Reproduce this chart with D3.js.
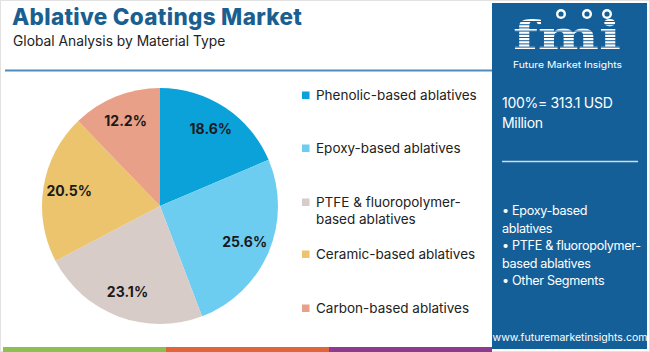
<!DOCTYPE html>
<html><head><meta charset="utf-8">
<script src="https://cdn.jsdelivr.net/npm/d3@7/dist/d3.min.js"></script>
<style>body{margin:0;background:#fff;}svg{display:block;}</style>
</head><body>
<svg id="c" width="650" height="352"></svg>
<script>
const categories = ["Phenolic-based ablatives","Epoxy-based ablatives","PTFE & fluoropolymer-based ablatives","Ceramic-based ablatives","Carbon-based ablatives"];
const legendLines = [["Phenolic-based ablatives"],["Epoxy-based ablatives"],["PTFE & fluoropolymer-","based ablatives"],["Ceramic-based ablatives"],["Carbon-based ablatives"]];
const values = [18.6,25.6,23.1,20.5,12.2];
const colors = ["#0ba2da","#6ccdf1","#d8ccc9","#ebc46d","#e9a089"];
const title = "Ablative Coatings Market";
const subtitle = "Global Analysis by Material Type";
const totalLines = ["100%= 313.1 USD","Million"];
const bulletLines = ["• Epoxy-based","ablatives","• PTFE & fluoropolymer-","based ablatives","• Other Segments"];
const url = "www.futuremarketinsights.com";

const svg = d3.select("#c");
const font = "Inter, 'Open Sans', sans-serif";

// frame
svg.append("rect").attr("x",0.5).attr("y",0.5).attr("width",649).attr("height",351).attr("fill","none").attr("stroke","#e2e2e2");

// title
svg.append("text").attr("x",12).attr("y",25).attr("font-family",font).attr("font-weight",800).attr("font-size",22.5).attr("letter-spacing",0.3).attr("fill","#1b5f91").text(title);
svg.append("text").attr("x",13).attr("y",46).attr("font-family",font).attr("font-size",13.8).attr("fill","#222").text(subtitle);
svg.append("line").attr("x1",5).attr("x2",492).attr("y1",70.5).attr("y2",70.5).attr("stroke","#4f8bbd").attr("stroke-width",2);

// bottom strips
const strips = ["#8cc152","#e0653a","#8e3a8e"];
strips.forEach((c,i)=>{
  svg.append("rect").attr("x",3+i*163).attr("y",347).attr("width",163).attr("height",5).attr("fill",c);
});

// pie
const cx=160, cy=206, R=118;
const pie = d3.pie().sort(null).value(d=>d)(values);
const arc = d3.arc().innerRadius(0).outerRadius(R);
const labelArc = d3.arc().innerRadius(92).outerRadius(92);
const g = svg.append("g").attr("transform",`translate(${cx},${cy})`);
g.selectAll("path").data(pie).join("path").attr("d",arc).attr("fill",(d,i)=>colors[i]);
g.selectAll("text").data(pie).join("text")
  .attr("transform",d=>`translate(${labelArc.centroid(d)})`)
  .attr("text-anchor","middle").attr("dy","0.35em")
  .attr("font-family",font).attr("font-weight",700).attr("font-size",14).attr("fill","#1a1a1a")
  .text(d=>d.value.toFixed(1)+"%");

// legend
const legendY = [95,148,202,254,308];
legendLines.forEach((lines,i)=>{
  svg.append("rect").attr("x",302).attr("y",legendY[i]-3.5).attr("width",7.5).attr("height",7.5).attr("fill",colors[i]);
  lines.forEach((t,j)=>{
    svg.append("text").attr("x",316).attr("y",legendY[i]+j*17.5).attr("dy","0.35em")
      .attr("font-family",font).attr("font-size",13.5).attr("fill","#222").text(t);
  });
});

// right panel
const px=492, pw=155;
const panelColor = "#155f99";
svg.append("rect").attr("x",px).attr("y",3).attr("width",pw).attr("height",346).attr("fill",panelColor);
// logo
const lg = svg.append("g");
lg.append("text").attr("x",513).attr("y",49).attr("font-family","'DejaVu Serif', serif").attr("font-weight",700).attr("font-size",40)
  .attr("textLength",108).attr("lengthAdjust","spacingAndGlyphs").attr("fill","#fff").text("fmi");
for(let y=21;y<50;y+=3.2){
  lg.append("rect").attr("x",510).attr("y",y).attr("width",116).attr("height",1).attr("fill",panelColor);
}
[[561,14],[587,14],[607,14]].forEach(p=>{
  lg.append("circle").attr("cx",p[0]).attr("cy",p[1]).attr("r",5).attr("fill","#fff");
  lg.append("circle").attr("cx",p[0]).attr("cy",p[1]).attr("r",2.6).attr("fill",panelColor);
});
lg.append("text").attr("x",513).attr("y",67.5).attr("font-family",font).attr("font-size",9)
  .attr("textLength",109).attr("lengthAdjust","spacingAndGlyphs").attr("fill","#fff").text("Future Market Insights");

totalLines.forEach((t,i)=>{
  svg.append("text").attr("x",502).attr("y",103+i*20).attr("dy","0.35em").attr("font-family",font).attr("font-size",14).attr("letter-spacing",-0.3).attr("fill","#fff").text(t);
});
svg.append("line").attr("x1",502).attr("x2",638).attr("y1",161.5).attr("y2",161.5).attr("stroke","#d0dbe8").attr("stroke-width",1.3);
bulletLines.forEach((t,i)=>{
  svg.append("text").attr("x",502).attr("y",211+i*17.5).attr("dy","0.35em").attr("font-family",font).attr("font-size",12.6).attr("letter-spacing",-0.3).attr("fill","#fff").text(t);
});
svg.append("text").attr("x",570).attr("y",337).attr("dy","0.35em").attr("text-anchor","middle").attr("font-family",font).attr("font-size",10.5).attr("fill","#fff").text(url);
</script>
</body></html>
